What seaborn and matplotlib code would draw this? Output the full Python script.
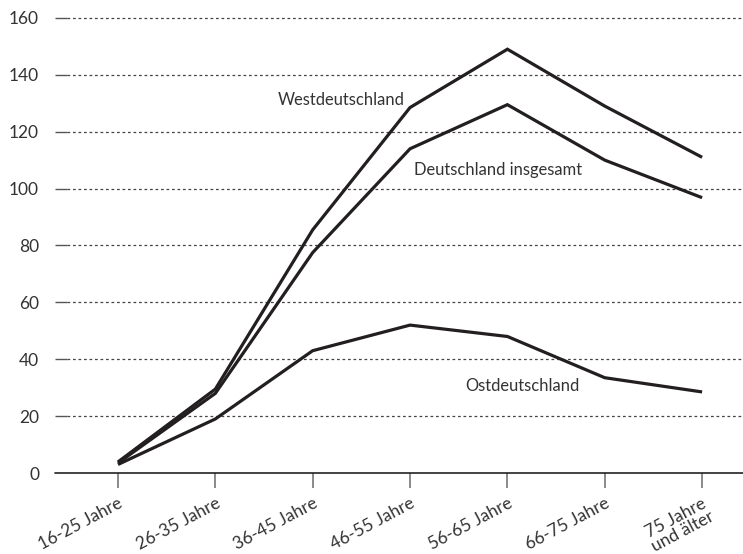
import matplotlib
matplotlib.use("Agg")
import matplotlib.pyplot as plt
import seaborn as sns
import pandas as pd

categories = ["16-25 Jahre", "26-35 Jahre", "36-45 Jahre", "46-55 Jahre",
              "56-65 Jahre", "66-75 Jahre", "75 Jahre\nund älter"]
west = [3.9, 29.5, 85.5, 128.5, 149.0, 129.0, 111.0]
gesamt = [3.5, 28.0, 77.5, 114.0, 129.5, 110.0, 96.8]
ost = [3.0, 19.0, 43.0, 52.0, 48.0, 33.5, 28.5]
series_names = ["Westdeutschland", "Deutschland insgesamt", "Ostdeutschland"]
yticks = [0, 20, 40, 60, 80, 100, 120, 140, 160]

sns.set_theme(style="white")
plt.rcParams["font.family"] = ["Lato", "DejaVu Sans"]

df = pd.DataFrame({
    "x": list(range(len(categories))) * 3,
    "value": west + gesamt + ost,
    "series": [series_names[0]] * 7 + [series_names[1]] * 7 + [series_names[2]] * 7,
})

fig = plt.figure(figsize=(7.43, 5.54), dpi=100)
ax = fig.add_axes([55 / 743, 81 / 554, 688 / 743, 469.3 / 554])

line_color = "#231f20"
sns.lineplot(data=df, x="x", y="value", units="series", estimator=None,
             color=line_color, linewidth=2.3, ax=ax, legend=False,
             sort=False, clip_on=False)
for ln in ax.lines:
    ln.set_solid_joinstyle("miter")
    ln.set_solid_capstyle("butt")
    ln.set_zorder(3)

ax.set_xlim(-0.647, 6.42)
ax.set_ylim(0, 165)

# gridlines
ytr = ax.get_yaxis_transform()
for v in yticks[1:]:
    ax.plot([0, 0.0174], [v, v], transform=ytr, color="#555555", lw=1.0,
            solid_capstyle="butt", zorder=1)
    ax.plot([0.0174, 1], [v, v], transform=ytr, color="#444444", lw=0.9,
            linestyle=(0, (2.2, 2.2)), zorder=1)
# baseline
ax.plot([0, 1], [0, 0], transform=ytr, color="#222222", lw=1.2,
        clip_on=False, zorder=2)

for s in ax.spines.values():
    s.set_visible(False)

ax.set_yticks(yticks)
ax.set_yticklabels([str(v) for v in yticks], fontsize=12.5, color="#333333")
ax.tick_params(axis="y", length=0, pad=11.5)

ax.set_xticks(range(len(categories)))
ax.set_xticklabels(categories, fontsize=12.5, color="#333333", rotation=28,
                   ha="right", va="top", rotation_mode="anchor",
                   multialignment="center", linespacing=0.9)
ax.tick_params(axis="x", length=11, width=1.2, color="#777777", pad=5,
               direction="out", bottom=True)
ax.set_xlabel("")
ax.set_ylabel("")

ax.text(2.29, 131.2, series_names[0], fontsize=11.9, color="#333333",
        ha="center", va="center")
ax.text(3.90, 106.5, series_names[1], fontsize=11.9, color="#333333",
        ha="center", va="center")
ax.text(4.15, 30.6, series_names[2], fontsize=11.9, color="#333333",
        ha="center", va="center")

fig.savefig("out.png", dpi=100, facecolor="white")
